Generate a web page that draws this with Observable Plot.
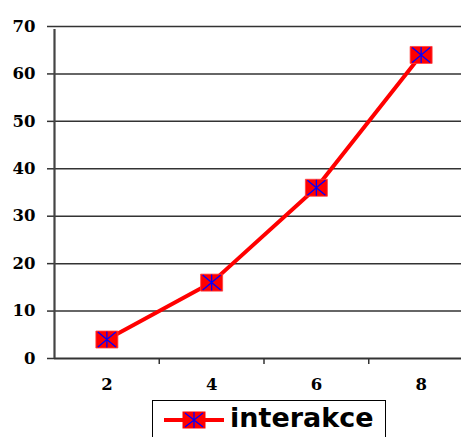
<!DOCTYPE html>
<html>
<head>
<meta charset="utf-8">
<script src="https://cdn.jsdelivr.net/npm/d3@7"></script>
<script src="https://cdn.jsdelivr.net/npm/@observablehq/plot@0.6"></script>
<style>
  html, body { margin: 0; padding: 0; background: #fff; overflow: hidden; width: 461px; height: 437px; }
  #chart svg { display: block; }
  .legend { position: relative; margin-left: 152px; margin-top: 2px; width: 234px; height: 60px; box-sizing: border-box; border: 1.5px solid #000; }
  .legend svg { position: absolute; left: 10px; top: 8px; }
  .legend span { position: absolute; left: 77px; top: 1px; font-family: "DejaVu Sans"; font-weight: bold; font-size: 27px; color: #000; white-space: nowrap; }
</style>
</head>
<body>
<div id="chart"></div>
<script>
const xValues = [2, 4, 6, 8];
const yValues = [4, 16, 36, 64];
const yTicks = [0, 10, 20, 30, 40, 50, 60, 70];
const xTicks = [2, 4, 6, 8];
const xBoundaries = [3, 5, 7];
const seriesName = "interakce";

const data = xValues.map((x, i) => ({x, y: yValues[i]}));

const W = 11, H = 8.5;
const rectSymbol = { draw(ctx) { ctx.rect(-W, -H, 2 * W, 2 * H); } };
const starSymbol = { draw(ctx) {
  ctx.moveTo(0, -H + 0.5); ctx.lineTo(0, H - 0.5);
  ctx.moveTo(-W + 2, -H + 1); ctx.lineTo(W - 2, H - 1);
  ctx.moveTo(-W + 2, H - 1); ctx.lineTo(W - 2, -H + 1);
} };

const chart = Plot.plot({
  width: 461, height: 398,
  marginTop: 26, marginBottom: 40, marginLeft: 54, marginRight: 0,
  x: {domain: [1, 9], range: [54, 473]},
  y: {domain: [0, 70]},
  style: {fontFamily: "DejaVu Serif", fontWeight: "bold", color: "#000", background: "#fff", overflow: "visible"},
  marks: [
    Plot.ruleY(yTicks.filter(d => d > 0), {stroke: "#333", strokeWidth: 1.5}),
    Plot.axisY({ticks: yTicks, tickSize: 7, tickPadding: 12, fontSize: 16.5, stroke: "#333", strokeWidth: 1.5, label: null, tickFormat: d => String(d)}),
    Plot.axisX({ticks: xBoundaries, tickSize: 6, stroke: "#333", strokeWidth: 1.5, tickFormat: () => "", label: null}),
    Plot.axisX({ticks: xTicks, tickSize: 0, tickPadding: 20, fontSize: 16.5, label: null, tickFormat: d => String(d)}),
    Plot.ruleY([0], {stroke: "#333", strokeWidth: 2}),
    Plot.ruleX([1], {y1: 0, y2: 70, stroke: "#444", strokeWidth: 2.2, insetBottom: -3}),
    Plot.line(data, {x: "x", y: "y", stroke: "#ff0000", strokeWidth: 4}),
    Plot.dot(data, {x: "x", y: "y", symbol: rectSymbol, r: 5, fill: "#ff0000", stroke: "#ff4040", strokeWidth: 0.8}),
    Plot.dot(data, {x: "x", y: "y", symbol: starSymbol, r: 5, fill: "none", stroke: "#0000ff", strokeWidth: 1.3})
  ]
});
document.getElementById("chart").appendChild(chart);

const legend = document.createElement("div");
legend.className = "legend";
legend.innerHTML = `<svg width="62" height="22" viewBox="0 0 62 22">
  <line x1="1" y1="11" x2="61" y2="11" stroke="#ff0000" stroke-width="4"/>
  <rect x="19.5" y="2.5" width="23" height="17" fill="#ff0000"/>
  <path d="M31,3 L31,19 M22,4 L40,18 M22,18 L40,4" stroke="#0000ff" stroke-width="1.3" fill="none"/>
</svg><span></span>`;
legend.querySelector("span").textContent = seriesName;
document.body.appendChild(legend);
</script>
</body>
</html>
